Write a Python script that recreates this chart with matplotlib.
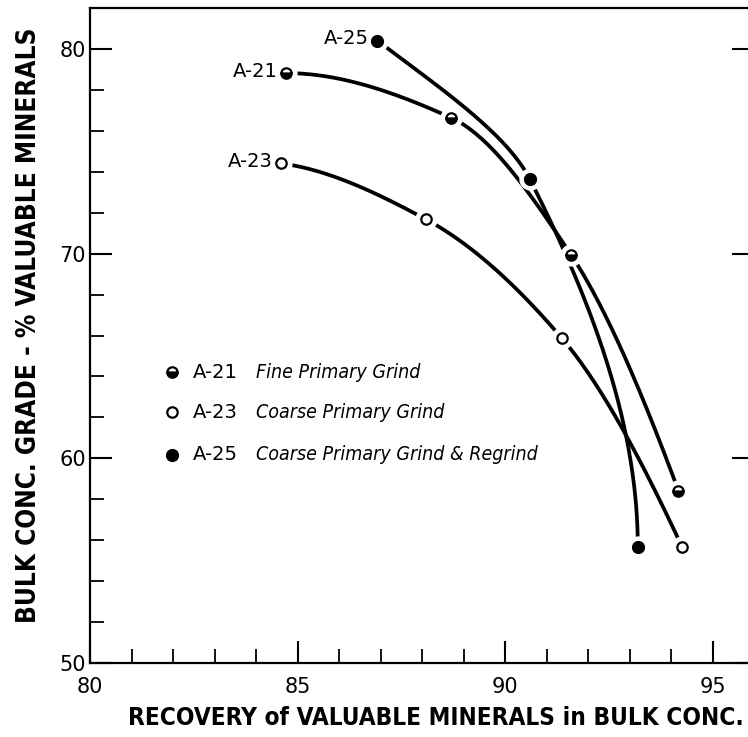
import numpy as np
import matplotlib
matplotlib.use("Agg")
import matplotlib.pyplot as plt
from matplotlib.ticker import MultipleLocator

# Grade vs. recovery for three grinding schemes
recovery_a21 = [84.72, 88.70, 91.59, 94.18]
grade_a21 = [78.82, 76.64, 69.95, 58.41]
recovery_a23 = [84.60, 88.10, 91.37, 94.27]
grade_a23 = [74.41, 71.67, 65.87, 55.66]
recovery_a25 = [86.92, 90.60, 93.20]
grade_a25 = [80.41, 73.63, 55.66]

series_ids = ["A-21", "A-23", "A-25"]
series_desc = ["Fine Primary Grind", "Coarse Primary Grind",
               "Coarse Primary Grind & Regrind"]

x_major = [80, 85, 90, 95]
y_major = [50, 60, 70, 80]

FONT = "DejaVu Sans"


def pchip(xs, ys, num=300):
    """Monotone cubic Hermite curve through the points (Fritsch-Carlson).
    xs must be increasing."""
    xs = np.asarray(xs, float)
    ys = np.asarray(ys, float)
    h = np.diff(xs)
    d = np.diff(ys) / h
    n = len(xs)
    m = np.zeros(n)
    for k in range(1, n - 1):
        if d[k - 1] * d[k] > 0:
            w1 = 2 * h[k] + h[k - 1]
            w2 = h[k] + 2 * h[k - 1]
            m[k] = (w1 + w2) / (w1 / d[k - 1] + w2 / d[k])

    def end_slope(h0, h1, d0, d1):
        s = ((2 * h0 + h1) * d0 - h0 * d1) / (h0 + h1)
        if np.sign(s) != np.sign(d0):
            return 0.0
        if np.sign(d0) != np.sign(d1) and abs(s) > 3 * abs(d0):
            return 3 * d0
        return s

    m[0] = end_slope(h[0], h[1], d[0], d[1])
    m[-1] = end_slope(h[-1], h[-2], d[-1], d[-2])
    xx = np.linspace(xs[0], xs[-1], num)
    idx = np.clip(np.searchsorted(xs, xx) - 1, 0, n - 2)
    t = (xx - xs[idx]) / h[idx]
    h00 = 2 * t**3 - 3 * t**2 + 1
    h10 = t**3 - 2 * t**2 + t
    h01 = -2 * t**3 + 3 * t**2
    h11 = t**3 - t**2
    yy = (h00 * ys[idx] + h10 * h[idx] * m[idx]
          + h01 * ys[idx + 1] + h11 * h[idx] * m[idx + 1])
    return xx, yy


def smooth_curve(xs, ys, along="x"):
    """Curve through the points, parameterised along x or along y."""
    if along == "x":
        return pchip(xs, ys)
    order = np.argsort(ys)
    yy, xx = pchip(np.asarray(ys)[order], np.asarray(xs)[order])
    return xx, yy


fig = plt.figure(figsize=(7.48, 7.37), dpi=100)
ax = fig.add_axes([90 / 748, 74 / 737, 664 / 748, 655 / 737])
ax.set_xlim(80, 96)
ax.set_ylim(50, 82)

styles = {
    "A-21": dict(marker="o", ms=7.5, mew=1.6, mec="black", mfc="black",
                 fillstyle="bottom", markerfacecoloralt="white"),
    "A-23": dict(marker="o", ms=7.5, mew=1.6, mec="black", mfc="white"),
    "A-25": dict(marker="o", ms=8.5, mew=1.0, mec="black", mfc="black"),
}
curve_axis = {"A-21": "x", "A-23": "x", "A-25": "y"}

data = {
    "A-21": (recovery_a21, grade_a21),
    "A-23": (recovery_a23, grade_a23),
    "A-25": (recovery_a25, grade_a25),
}

for sid, (xs, ys) in data.items():
    cx, cy = smooth_curve(xs, ys, curve_axis[sid])
    ax.plot(cx, cy, color="black", lw=2.7, solid_capstyle="butt", zorder=2)

for sid, (xs, ys) in data.items():
    # white halo leaves a small gap between curve and symbol
    ax.plot(xs, ys, "o", ms=15, color="white", zorder=3, ls="none")
    ax.plot(xs, ys, ls="none", zorder=4, **styles[sid])

# run labels beside the first point of each curve
for sid, (xs, ys) in data.items():
    ax.annotate(sid, (xs[0], ys[0]), xytext=(-6, 1.5), textcoords="offset points",
                ha="right", va="center", fontsize=14, family=FONT, zorder=5)

# key
key_rows = [0.444, 0.383, 0.318]
for sid, desc, yk in zip(series_ids, series_desc, key_rows):
    ax.plot([0.124], [yk], transform=ax.transAxes, ls="none", zorder=4,
            clip_on=False, **styles[sid])
    ax.text(0.155, yk, sid, transform=ax.transAxes, ha="left", va="center",
            fontsize=14, family=FONT)
    ax.text(0.250, yk, desc, transform=ax.transAxes, ha="left", va="center",
            fontsize=14, family=FONT, style="italic", fontstretch="condensed")

# axes frame and ticks
for side in ("left", "bottom", "top"):
    ax.spines[side].set_linewidth(1.6)
ax.spines["right"].set_visible(False)

ax.set_xticks(x_major)
ax.set_yticks(y_major)
ax.xaxis.set_minor_locator(MultipleLocator(1))
ax.yaxis.set_minor_locator(MultipleLocator(2))
ax.tick_params(which="major", direction="in", length=16, width=1.5,
               right=True, top=False, labelsize=15)
ax.tick_params(which="minor", direction="in", length=10, width=1.3,
               right=False, top=False)
ax.tick_params(axis="x", which="major", pad=10)
ax.tick_params(axis="y", which="major", pad=3)
for lbl in ax.get_xticklabels() + ax.get_yticklabels():
    lbl.set_family(FONT)

ax.set_xlabel("RECOVERY of VALUABLE MINERALS in BULK CONC.", fontsize=17.5,
              family=FONT, fontweight="bold", fontstretch="condensed")
ax.set_ylabel("BULK CONC. GRADE - % VALUABLE MINERALS", fontsize=18.8,
              family=FONT, fontweight="bold", fontstretch="condensed")
ax.xaxis.set_label_coords(0.521, -0.066)
ax.yaxis.set_label_coords(-0.072, 0.515)

fig.savefig("out.png", dpi=100)
